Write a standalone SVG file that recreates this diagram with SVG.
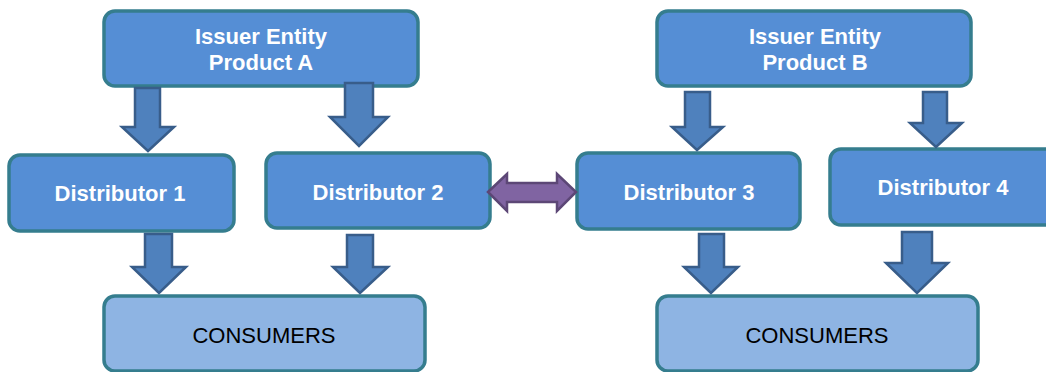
<svg xmlns="http://www.w3.org/2000/svg" width="1046" height="372" viewBox="0 0 1046 372">
<style>
.box{fill:#558ED5;stroke:#357D8E;stroke-width:3.5}
.cons{fill:#8EB4E3;stroke:#357D8E;stroke-width:3.5}
.arr{fill:#4F81BD;stroke:#385D8A;stroke-width:2.5;stroke-linejoin:miter}
.dbl{fill:#8064A2;stroke:#5C4776;stroke-width:2.5}
.lbl{font-family:"Liberation Sans",Arial,sans-serif;font-weight:bold;font-size:22px;fill:#FFFFFF;text-anchor:middle}
.clbl{font-family:"Liberation Sans",Arial,sans-serif;font-size:22px;fill:#000000;text-anchor:middle}
</style>
<rect width="1046" height="372" fill="#FFFFFF"/>
<g id="issuerA"><rect class="box" x="104" y="11" width="314" height="75" rx="11"/><text class="lbl" x="261" y="44">Issuer Entity</text><text class="lbl" x="261" y="70">Product A</text></g>
<g id="issuerB"><rect class="box" x="657" y="11" width="314" height="75" rx="11"/><text class="lbl" x="815" y="44">Issuer Entity</text><text class="lbl" x="815" y="70">Product B</text></g>
<g id="dist1"><rect class="box" x="9" y="155" width="225" height="76" rx="11"/><text class="lbl" x="120" y="201">Distributor 1</text></g>
<g id="dist2"><rect class="box" x="266" y="153" width="224" height="75" rx="11"/><text class="lbl" x="378" y="200">Distributor 2</text></g>
<g id="dist3"><rect class="box" x="577" y="153" width="223" height="76" rx="11"/><text class="lbl" x="689" y="200">Distributor 3</text></g>
<g id="dist4"><rect class="box" x="830" y="149" width="230" height="76" rx="11"/><text class="lbl" x="943" y="195">Distributor 4</text></g>
<g id="consA"><rect class="cons" x="104" y="296" width="321" height="75" rx="11"/><text class="clbl" x="264" y="343">CONSUMERS</text></g>
<g id="consB"><rect class="cons" x="657" y="296" width="321" height="75" rx="11"/><text class="clbl" x="817" y="343">CONSUMERS</text></g>
<g id="connectors">
<polygon class="arr" points="135,88 160,88 160,127 174,127 148,151 122,127 135,127"/>
<polygon class="arr" points="345,83 373,83 373,117 388,117 359,146 330,117 345,117"/>
<polygon class="arr" points="685,92 710,92 710,127 723,127 697,150 672,127 685,127"/>
<polygon class="arr" points="923,92 947,92 947,123 962,123 936,147 910,123 923,123"/>
<polygon class="arr" points="145,234 172,234 172,267 186,267 159,293 132,267 145,267"/>
<polygon class="arr" points="347,235 373,235 373,267 388,267 360,293 333,267 347,267"/>
<polygon class="arr" points="699,234 724,234 724,267 738,267 711,293 684,267 699,267"/>
<polygon class="arr" points="902,232 932,232 932,263 948,263 917,293 886,263 902,263"/>
<polygon class="dbl" points="488,192 507,174 507,183 557,183 557,174 576,192 557,211 557,202 507,202 507,211"/>
</g>
</svg>
